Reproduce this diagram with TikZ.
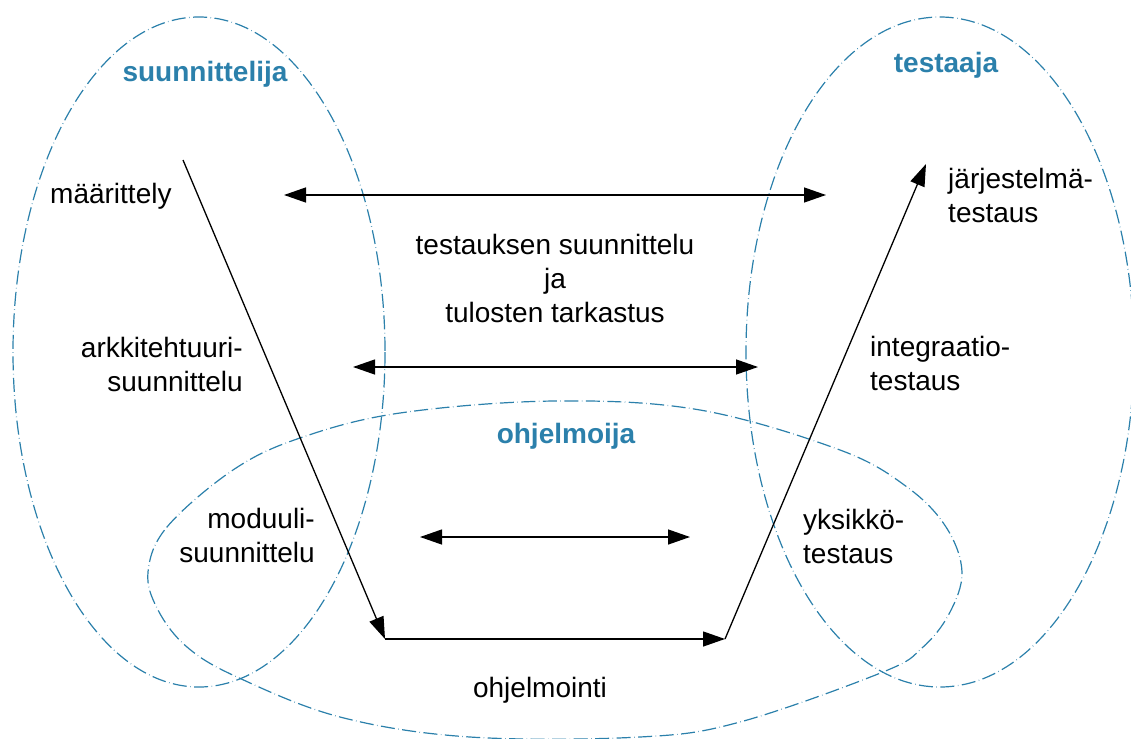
\documentclass[tikz,border=0pt]{standalone}
\usepackage{fontspec}
\setmainfont{Liberation Sans}
\usetikzlibrary{arrows.meta}
\definecolor{roleblue}{HTML}{2B80AB}
\begin{document}
\begin{tikzpicture}[x=1pt,y=-1pt,
  role/.style={draw=roleblue, line width=1.2pt, dash pattern=on 14pt off 3.5pt on 0.5pt off 3.5pt},
  rolelabel/.style={text=roleblue, font=\fontsize{28}{34}\selectfont\bfseries, inner sep=0pt, anchor=base},
  lbl/.style={font=\fontsize{28}{34}\selectfont, inner sep=0pt},
  flow/.style={line width=1.3pt, -{Triangle[length=22pt,width=15pt]}},
  both/.style={line width=1.3pt, {Triangle[length=22pt,width=15pt]}-{Triangle[length=22pt,width=15pt]}}]
\useasboundingbox (0,0) rectangle (1131,738);
\begin{scope}
\clip (0,0) rectangle (1131,738);
\draw[role] (199,352) ellipse [x radius=186, y radius=335];
\draw[role] (940,352) ellipse [x radius=194, y radius=335];
\draw[role] plot[smooth cycle, tension=0.6] coordinates {
  (148,572) (167,527) (233,470) (300,438) (400,413) (555,401) (700,410)
  (840,450) (907,487) (946,527) (962,572) (949,614) (922,648) (883,672)
  (740,722) (640,737) (470,737) (340,717) (237,677) (187,647) (158,610)};
\end{scope}

% role labels
\node[rolelabel] (suun) at (205,82) {suunnittelija};
\node[rolelabel] (test) at (946,73) {testaaja};
\node[rolelabel] (ohj) at (566,443) {ohjelmoija};

% phase labels (base anchor = baseline of last line)
\node[lbl, anchor=base west] (maar) at (50,203) {määrittely};
\node[lbl, align=left, anchor=base west] (jarj) at (948,222) {järjestelmä-\\testaus};
\node[lbl, align=center, anchor=base] (mid) at (555,322) {testauksen suunnittelu\\ja\\tulosten tarkastus};
\node[lbl, align=right, anchor=base east] (ark) at (243,391) {arkkitehtuuri-\\suunnittelu};
\node[lbl, align=left, anchor=base west] (int) at (870,390) {integraatio-\\testaus};
\node[lbl, align=right, anchor=base east] (mod) at (315,562) {moduuli-\\suunnittelu};
\node[lbl, align=left, anchor=base west] (yks) at (803,563) {yksikkö-\\testaus};
\node[lbl, anchor=base] (ohjm) at (540,697) {ohjelmointi};

% flow coordinates
\coordinate (fstart) at (183,160);
\coordinate (fc1) at (385,639);
\coordinate (fc2) at (725,639);
\coordinate (fend) at (926,164);
\draw[flow] (fstart) -- (fc1);
\draw[flow] (fc1) -- (fc2);
\draw[flow] (fc2) -- (fend);

% double arrows
\coordinate (t1) at (284,195);
\coordinate (t2) at (826,195);
\coordinate (m1) at (353,367);
\coordinate (m2) at (758,367);
\coordinate (l1) at (420,537);
\coordinate (l2) at (690,537);
\draw[both] (t1) -- (t2);
\draw[both] (m1) -- (m2);
\draw[both] (l1) -- (l2);
\end{tikzpicture}
\end{document}
